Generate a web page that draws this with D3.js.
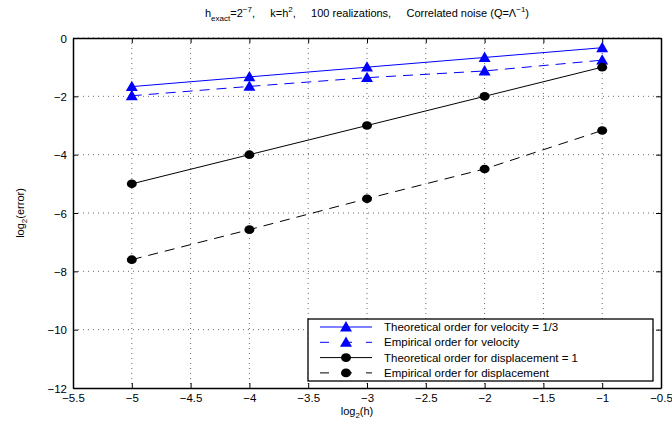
<!DOCTYPE html>
<html><head><meta charset="utf-8">
<script src="https://cdn.jsdelivr.net/npm/d3@7"></script>
<style>
body{margin:0;background:#fff;}
text{font-family:"Liberation Sans",Arial,Helvetica,sans-serif;fill:#000;}
</style></head>
<body><svg id="c" width="672" height="425"></svg>
<script>
const xValues = [-5, -4, -3, -2, -1];
const theoVelocity = [-1.667, -1.333, -1.0, -0.667, -0.333];
const empVelocity = [-1.98, -1.66, -1.36, -1.13, -0.76];
const theoDisplacement = [-5, -4, -3, -2, -1];
const empDisplacement = [-7.6, -6.57, -5.51, -4.49, -3.17];
const xTicks = [-5.5, -5, -4.5, -4, -3.5, -3, -2.5, -2, -1.5, -1, -0.5];
const yTicks = [0, -2, -4, -6, -8, -10, -12];
const legendLabels = ["Theoretical order for velocity = 1/3","Empirical order for velocity","Theoretical order for displacement = 1","Empirical order for displacement"];

const svg = d3.select("#c");
const L = 73, R = 661, T = 38, B = 388;
const x = d3.scaleLinear().domain([-5.5, -0.5]).range([L, R]);
const y = d3.scaleLinear().domain([-12, 0]).range([B, T]);
const fmt = d => (d < 0 ? "\u2212" : "") + Math.abs(d);

// grid
const g = svg.append("g");
g.selectAll(".gx").data(xTicks.slice(1, -1)).enter().append("line")
  .attr("x1", d => x(d)).attr("x2", d => x(d)).attr("y1", T).attr("y2", B)
  .attr("stroke", "#000").attr("stroke-width", 0.6).attr("stroke-dasharray", "1,4");
g.selectAll(".gy").data(yTicks.slice(0, -1)).enter().append("line")
  .attr("x1", L).attr("x2", R).attr("y1", d => y(d)).attr("y2", d => y(d))
  .attr("stroke", "#000").attr("stroke-width", 0.6).attr("stroke-dasharray", "1,4");

// axes
const fs = "11.5px";
const ax = svg.append("g").attr("transform", `translate(0,${B})`)
  .call(d3.axisBottom(x).tickValues(xTicks).tickFormat(fmt).tickSizeInner(-5).tickSizeOuter(0).tickPadding(6));
const axT = svg.append("g").attr("transform", `translate(0,${T})`)
  .call(d3.axisTop(x).tickValues(xTicks).tickFormat("").tickSizeInner(-5).tickSizeOuter(0));
const ay = svg.append("g").attr("transform", `translate(${L},0)`)
  .call(d3.axisLeft(y).tickValues(yTicks).tickFormat(fmt).tickSizeInner(-5).tickSizeOuter(0).tickPadding(6));
const ayR = svg.append("g").attr("transform", `translate(${R},0)`)
  .call(d3.axisRight(y).tickValues(yTicks).tickFormat("").tickSizeInner(-5).tickSizeOuter(0));
[ax, axT, ay, ayR].forEach(a => {
  a.select(".domain").attr("stroke", "#000").attr("stroke-width", 1.5);
  a.selectAll("text").style("font-size", fs).attr("font-family", "Liberation Sans, Arial, sans-serif");
});
ay.selectAll("text").attr("dy", "0.35em");

// series
const series = [
  {vals: theoVelocity, color: "#0000ff", dash: null, marker: "tri"},
  {vals: empVelocity, color: "#0000ff", dash: "10,7", marker: "tri"},
  {vals: theoDisplacement, color: "#000", dash: null, marker: "circ"},
  {vals: empDisplacement, color: "#000", dash: "10,7", marker: "circ"}
];
const line = d3.line().x(d => x(d[0])).y(d => y(d[1]));
const triPath = d3.symbol().type(d3.symbolTriangle).size(62);
function drawMarker(sel, type, color) {
  if (type === "tri") sel.append("path").attr("d", triPath()).attr("fill", color).attr("transform", "translate(0,1)");
  else sel.append("ellipse").attr("rx", 5).attr("ry", 4.3).attr("fill", color);
}
series.forEach(s => {
  const pts = xValues.map((xv, i) => [xv, s.vals[i]]);
  svg.append("path").attr("d", line(pts)).attr("fill", "none").attr("stroke", s.color)
    .attr("stroke-width", 1).attr("stroke-dasharray", s.dash);
  pts.forEach(p => {
    const m = svg.append("g").attr("transform", `translate(${x(p[0])},${y(p[1])})`);
    drawMarker(m, s.marker, s.color);
  });
});

// legend
const lx0 = 308, ly0 = 319, lw = 345, lh = 62;
svg.append("rect").attr("x", lx0).attr("y", ly0).attr("width", lw).attr("height", lh)
  .attr("fill", "#fff").attr("stroke", "#000").attr("stroke-width", 1.3);
legendLabels.forEach((lab, i) => {
  const s = series[i];
  const cy = ly0 + 8 + i * 15.3;
  svg.append("line").attr("x1", lx0 + 12).attr("x2", lx0 + 64).attr("y1", cy).attr("y2", cy)
    .attr("stroke", s.color).attr("stroke-width", 1).attr("stroke-dasharray", s.dash ? "9,14" : null)
    .attr("stroke-dashoffset", s.dash ? 0 : null);
  const m = svg.append("g").attr("transform", `translate(${lx0 + 38},${cy})`);
  drawMarker(m, s.marker, s.color);
  svg.append("text").attr("x", lx0 + 76).attr("y", cy).attr("dy", "0.35em")
    .style("font-size", "11.5px").text(lab);
});

// title
const title = svg.append("text").attr("x", (L + R) / 2).attr("y", 17).attr("text-anchor", "middle").style("font-size", "11px");
title.append("tspan").text("h");
title.append("tspan").attr("dy", 4).style("font-size", "8px").text("exact");
title.append("tspan").attr("dy", -4).text("=2");
title.append("tspan").attr("dy", -5).style("font-size", "8px").text("\u22127");
title.append("tspan").attr("dy", 5).text(",\u00a0\u00a0\u00a0\u00a0 k=h");
title.append("tspan").attr("dy", -5).style("font-size", "8px").text("2");
title.append("tspan").attr("dy", 5).text(",\u00a0\u00a0\u00a0\u00a0 100 realizations,\u00a0\u00a0\u00a0\u00a0 Correlated noise (Q=\u039b");
title.append("tspan").attr("dy", -5).style("font-size", "8px").text("\u22121");
title.append("tspan").attr("dy", 5).text(")");

// x label
const xl = svg.append("text").attr("x", (L + R) / 2 - 10).attr("y", 415).attr("text-anchor", "middle").style("font-size", "11px");
xl.append("tspan").text("log");
xl.append("tspan").attr("dy", 3).style("font-size", "8px").text("2");
xl.append("tspan").attr("dy", -3).text("(h)");

// y label
const yl = svg.append("text").attr("transform", `translate(24,${(T + B) / 2}) rotate(-90)`).attr("text-anchor", "middle").style("font-size", "11px");
yl.append("tspan").text("log");
yl.append("tspan").attr("dy", 3).style("font-size", "8px").text("2");
yl.append("tspan").attr("dy", -3).text("(error)");
</script></body></html>
